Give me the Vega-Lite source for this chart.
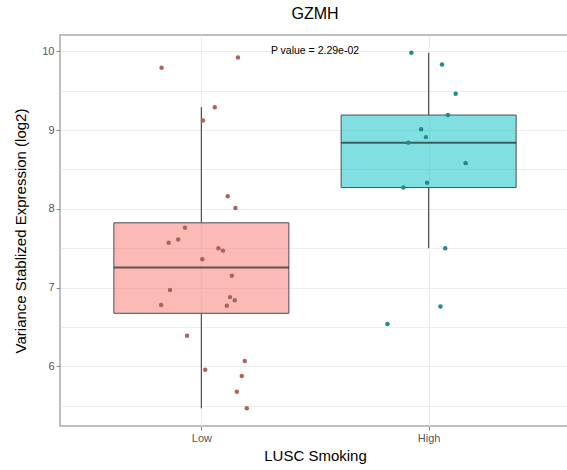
{
  "$schema": "https://vega.github.io/schema/vega-lite/v6.json",
  "width": 510,
  "height": 391,
  "autosize": "none",
  "padding": {"left": 60, "top": 35, "right": 0, "bottom": 44},
  "title": {"text": "GZMH", "fontSize": 16, "font": "Liberation Sans", "fontWeight": "normal", "color": "#000000", "offset": 13, "anchor": "middle"},
  "config": {
    "view": {"stroke": "#aaaaaa", "strokeWidth": 1.5},
    "font": "Liberation Sans"
  },
  "data": {
    "values": [
      {"group": "Low", "pos": 1, "jx": 0.825, "value": 9.79},
      {"group": "Low", "pos": 1, "jx": 1.161, "value": 9.92},
      {"group": "Low", "pos": 1, "jx": 1.059, "value": 9.29},
      {"group": "Low", "pos": 1, "jx": 1.007, "value": 9.12},
      {"group": "Low", "pos": 1, "jx": 1.116, "value": 8.16},
      {"group": "Low", "pos": 1, "jx": 1.150, "value": 8.01},
      {"group": "Low", "pos": 1, "jx": 0.928, "value": 7.76},
      {"group": "Low", "pos": 1, "jx": 0.856, "value": 7.57},
      {"group": "Low", "pos": 1, "jx": 0.898, "value": 7.61},
      {"group": "Low", "pos": 1, "jx": 1.075, "value": 7.50},
      {"group": "Low", "pos": 1, "jx": 1.095, "value": 7.47},
      {"group": "Low", "pos": 1, "jx": 1.004, "value": 7.36},
      {"group": "Low", "pos": 1, "jx": 1.134, "value": 7.15},
      {"group": "Low", "pos": 1, "jx": 0.862, "value": 6.97},
      {"group": "Low", "pos": 1, "jx": 1.126, "value": 6.88},
      {"group": "Low", "pos": 1, "jx": 1.147, "value": 6.84},
      {"group": "Low", "pos": 1, "jx": 0.823, "value": 6.78},
      {"group": "Low", "pos": 1, "jx": 1.112, "value": 6.77},
      {"group": "Low", "pos": 1, "jx": 0.937, "value": 6.39},
      {"group": "Low", "pos": 1, "jx": 1.191, "value": 6.07},
      {"group": "Low", "pos": 1, "jx": 1.017, "value": 5.96},
      {"group": "Low", "pos": 1, "jx": 1.178, "value": 5.88},
      {"group": "Low", "pos": 1, "jx": 1.156, "value": 5.68},
      {"group": "Low", "pos": 1, "jx": 1.200, "value": 5.47},
      {"group": "High", "pos": 2, "jx": 1.924, "value": 9.98},
      {"group": "High", "pos": 2, "jx": 2.059, "value": 9.83},
      {"group": "High", "pos": 2, "jx": 2.119, "value": 9.46},
      {"group": "High", "pos": 2, "jx": 2.085, "value": 9.19},
      {"group": "High", "pos": 2, "jx": 1.967, "value": 9.01},
      {"group": "High", "pos": 2, "jx": 1.988, "value": 8.91},
      {"group": "High", "pos": 2, "jx": 1.911, "value": 8.84},
      {"group": "High", "pos": 2, "jx": 2.163, "value": 8.58},
      {"group": "High", "pos": 2, "jx": 1.993, "value": 8.33},
      {"group": "High", "pos": 2, "jx": 1.889, "value": 8.27},
      {"group": "High", "pos": 2, "jx": 2.073, "value": 7.50},
      {"group": "High", "pos": 2, "jx": 2.052, "value": 6.76},
      {"group": "High", "pos": 2, "jx": 1.819, "value": 6.54}
    ]
  },
  "layer": [
    {
      "mark": {
        "type": "boxplot",
        "orient": "vertical",
        "extent": 1.5,
        "size": 175,
        "outliers": false,
        "box": {"stroke": "#4d4d4d", "strokeWidth": 1, "fillOpacity": 0.5},
        "median": {"color": "#262626", "thickness": 2, "strokeWidth": 2},
        "rule": {"color": "#4d4d4d", "strokeWidth": 1.2}
      },
      "encoding": {
        "x": {
          "field": "pos", "type": "quantitative",
          "scale": {"domain": [0.4, 2.6], "nice": false, "zero": false},
          "axis": {
            "values": [1, 2],
            "labelExpr": "datum.value === 1 ? 'Low' : 'High'",
            "title": "LUSC Smoking",
            "grid": true, "gridColor": "#ececec", "gridWidth": 1,
            "domain": false,
            "tickColor": "#888888", "tickSize": 4,
            "labelFontSize": 11, "labelColor": "#555555", "labelPadding": 2,
            "labelFont": "Liberation Sans",
            "titleFontSize": 15, "titleColor": "#000000", "titleFontWeight": "normal",
            "titleFont": "Liberation Sans", "titlePadding": 5
          }
        },
        "y": {
          "field": "value", "type": "quantitative",
          "scale": {"domain": [5.245, 10.2055], "nice": false, "zero": false},
          "axis": {
            "values": [5.5, 6, 6.5, 7, 7.5, 8, 8.5, 9, 9.5, 10],
            "labelExpr": "datum.value % 1 === 0 ? format(datum.value, 'd') : ''",
            "title": "Variance Stablized Expression (log2)",
            "grid": true, "gridColor": "#ececec", "gridWidth": 1,
            "domain": false,
            "tickColor": "#888888", "tickSize": 4,
            "tickOpacity": {"condition": {"test": "datum.value % 1 === 0", "value": 1}, "value": 0},
            "labelFontSize": 11, "labelColor": "#555555", "labelPadding": 2,
            "labelFont": "Liberation Sans",
            "titleFontSize": 15, "titleColor": "#000000", "titleFontWeight": "normal",
            "titleFont": "Liberation Sans", "titlePadding": 13
          }
        },
        "color": {
          "field": "group", "type": "nominal",
          "scale": {"domain": ["Low", "High"], "range": ["#F8766D", "#00BFC4"]},
          "legend": null
        }
      }
    },
    {
      "mark": {"type": "circle", "size": 20, "opacity": 1},
      "encoding": {
        "x": {"field": "jx", "type": "quantitative", "scale": {"domain": [0.4, 2.6], "nice": false, "zero": false}},
        "y": {"field": "value", "type": "quantitative", "scale": {"domain": [5.245, 10.2055], "nice": false, "zero": false}},
        "fill": {
          "field": "group", "type": "nominal",
          "scale": {"domain": ["Low", "High"], "range": ["#B0605D", "#1E8C8D"]},
          "legend": null
        }
      }
    },
    {
      "data": {"values": [{"px": 1.5, "py": 10, "label": "P value = 2.29e-02"}]},
      "mark": {"type": "text", "fontSize": 10.5, "color": "#000000", "font": "Liberation Sans"},
      "encoding": {
        "x": {"field": "px", "type": "quantitative", "scale": {"domain": [0.4, 2.6], "nice": false, "zero": false}},
        "y": {"field": "py", "type": "quantitative", "scale": {"domain": [5.245, 10.2055], "nice": false, "zero": false}},
        "text": {"field": "label"}
      }
    }
  ]
}
